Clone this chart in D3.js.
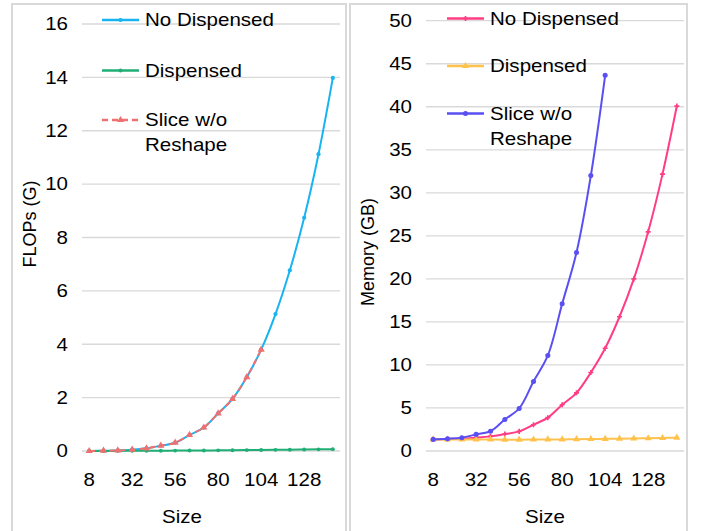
<!DOCTYPE html>
<html>
<head>
<meta charset="utf-8">
<script src="https://cdn.jsdelivr.net/npm/d3@7"></script>
<style>
  body { margin: 0; background: #fff; }
  svg { display: block; font-family: 'Liberation Sans', Arial, sans-serif; }
  .grid line { stroke: #d9d9d9; stroke-width: 1.3; }
  .tick text { font-size: 18px; fill: #000; }
</style>
</head>
<body>
<div id="chart"></div>
<script>
const sizes = [8, 16, 24, 32, 40, 48, 56, 64, 72, 80, 88, 96, 104, 112, 120, 128, 136, 144];
const sizeTicks = [8, 32, 56, 80, 104, 128];

// FLOPs (G)
const flopsNoDisp = [0, 0.01, 0.02, 0.05, 0.1, 0.2, 0.31, 0.6, 0.88, 1.41, 1.95, 2.77, 3.8, 5.13, 6.77, 8.74, 11.12, 13.98];
const flopsDisp = [0, 0, 0.005, 0.008, 0.01, 0.012, 0.015, 0.018, 0.02, 0.025, 0.03, 0.034, 0.038, 0.043, 0.048, 0.055, 0.062, 0.07];
const flopsSlice = [0, 0.01, 0.02, 0.05, 0.1, 0.2, 0.31, 0.6, 0.88, 1.41, 1.95, 2.77, 3.8];
const flopsTicks = [0, 2, 4, 6, 8, 10, 12, 14, 16];

// Memory (GB)
const memNoDisp = [1.35, 1.4, 1.45, 1.55, 1.7, 1.97, 2.28, 3.05, 3.87, 5.37, 6.76, 9.12, 11.94, 15.6, 20.0, 25.47, 32.17, 40.08];
const memDisp = [1.35, 1.35, 1.34, 1.33, 1.33, 1.32, 1.32, 1.33, 1.34, 1.35, 1.37, 1.39, 1.41, 1.43, 1.45, 1.48, 1.51, 1.55];
const memSlice = [1.35, 1.43, 1.55, 1.93, 2.3, 3.67, 4.95, 8.08, 11.1, 17.1, 23.07, 32.0, 43.65];
const memTicks = [0, 5, 10, 15, 20, 25, 30, 35, 40, 45, 50];

const width = 704, height = 531;
// the original text is a bit wider than Arial at this height
const stretch = 'scale(1.14,1)';

const svg = d3.select('#chart').append('svg')
  .attr('width', width)
  .attr('height', height);

const drawPanel = cfg => {
  const g = svg.append('g');

  // frame
  g.append('rect')
    .attr('x', cfg.box[0])
    .attr('y', 4)
    .attr('width', cfg.box[1] - cfg.box[0])
    .attr('height', 560)
    .attr('fill', 'none')
    .attr('stroke', '#d9d9d9')
    .attr('stroke-width', 2);

  const x = d3.scaleBand().domain(sizes).range(cfg.xRange);
  const y = d3.scaleLinear().domain([0, d3.max(cfg.yTicks)]).range([451, cfg.yTop]);

  // gridlines
  g.append('g')
    .attr('class', 'grid')
    .selectAll('line')
    .data(cfg.yTicks)
    .join('line')
    .attr('x1', cfg.xRange[0])
    .attr('x2', cfg.xRange[1])
    .attr('y1', d => y(d))
    .attr('y2', d => y(d));

  // y axis
  g.append('g')
    .attr('transform', `translate(${cfg.xRange[0] - 14},0)`)
    .call(d3.axisLeft(y).tickValues(cfg.yTicks).tickSize(0).tickPadding(0))
    .call(a => a.select('.domain').remove())
    .call(a => a.selectAll('.tick text').attr('transform', stretch));

  // x axis
  g.append('g')
    .attr('transform', 'translate(0,451)')
    .call(d3.axisBottom(x).tickValues(sizeTicks).tickSize(0).tickPadding(22))
    .call(a => a.select('.domain').remove())
    .call(a => a.selectAll('.tick text').attr('transform', stretch));

  // axis titles
  g.append('text')
    .attr('transform', `translate(${cfg.sizeX},523) ${stretch}`)
    .attr('text-anchor', 'middle')
    .attr('font-size', 18)
    .text('Size');

  g.append('text')
    .attr('transform', `translate(${cfg.titleX},${cfg.titleY}) rotate(-90) scale(1,1.0)`)
    .attr('text-anchor', 'middle')
    .attr('dy', '0.35em')
    .attr('font-size', 18)
    .text(cfg.title);

  const line = d3.line()
    .x((d, i) => x(sizes[i]) + x.bandwidth() / 2)
    .y(d => y(d))
    .curve(d3.curveCatmullRom);

  cfg.series.forEach(s => {
    g.append('path')
      .datum(s.values)
      .attr('fill', 'none')
      .attr('stroke', s.color)
      .attr('stroke-width', 2)
      .attr('stroke-dasharray', s.dash || null)
      .attr('d', line);

    g.append('g')
      .selectAll('path')
      .data(s.values)
      .join('path')
      .attr('transform', (d, i) => `translate(${x(sizes[i]) + x.bandwidth() / 2},${y(d)})`)
      .attr('d', d3.symbol().type(s.symbol).size(s.msize))
      .attr('fill', s.color);
  });

  // legend
  cfg.series.forEach((s, i) => {
    const ly = cfg.legendY[i];
    const lg = g.append('g');
    lg.append('line')
      .attr('x1', cfg.legendX)
      .attr('x2', cfg.legendX + 37)
      .attr('y1', ly)
      .attr('y2', ly)
      .attr('stroke', s.color)
      .attr('stroke-width', 2.5)
      .attr('stroke-dasharray', s.dash || null);
    lg.append('path')
      .attr('transform', `translate(${cfg.legendX + 18.5},${ly})`)
      .attr('d', d3.symbol().type(s.symbol).size(s.msize))
      .attr('fill', s.color);
    const t = lg.append('text')
      .attr('transform', `translate(${cfg.legendX + 43},${ly}) ${stretch}`)
      .attr('font-size', 18);
    s.label.forEach((part, j) => {
      t.append('tspan')
        .attr('x', 0)
        .attr('dy', j === 0 ? '0.35em' : 25)
        .text(part);
    });
  });
};

drawPanel({
  box: [12, 346],
  xRange: [82, 340],
  yTop: 24,
  yTicks: flopsTicks,
  title: 'FLOPs (G)',
  titleX: 30,
  titleY: 224,
  sizeX: 182,
  legendX: 102,
  legendY: [20, 70.5, 120],
  series: [
    { label: ['No Dispensed'], values: flopsNoDisp, color: '#18b4f2', symbol: d3.symbolCircle, msize: 14 },
    { label: ['Dispensed'], values: flopsDisp, color: '#1fae76', symbol: d3.symbolCircle, msize: 12 },
    { label: ['Slice w/o', 'Reshape'], values: flopsSlice, color: '#f07070', symbol: d3.symbolTriangle, msize: 22, dash: '6,4' }
  ]
});

drawPanel({
  box: [350, 687],
  xRange: [426, 684],
  yTop: 20.7,
  yTicks: memTicks,
  title: 'Memory (GB)',
  titleX: 368,
  titleY: 252,
  sizeX: 545,
  legendX: 447,
  legendY: [18.5, 66, 113.5],
  series: [
    { label: ['No Dispensed'], values: memNoDisp, color: '#ff3d85', symbol: d3.symbolCross, msize: 14 },
    { label: ['Dispensed'], values: memDisp, color: '#ffc24d', symbol: d3.symbolTriangle, msize: 22 },
    { label: ['Slice w/o', 'Reshape'], values: memSlice, color: '#5a4ff2', symbol: d3.symbolCircle, msize: 20 }
  ]
});
</script>
</body>
</html>
